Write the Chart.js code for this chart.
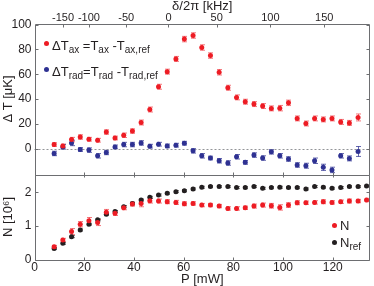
<!DOCTYPE html>
<html>
<head>
<meta charset="utf-8">
<script src="https://cdn.jsdelivr.net/npm/chart.js@4/dist/chart.umd.min.js"></script>
<style>
body { margin: 0; background: #fff; }
#wrap { position: relative; width: 374px; height: 286px; font-family: "Liberation Sans", Arial, sans-serif; color: #231f20; }
#myChart { display: block; }
.lg { position: absolute; font-size: 13px; line-height: 13px; white-space: pre; }
.lg sub { font-size: 10px; vertical-align: -3px; line-height: 0; }
.dot { position: absolute; width: 5px; height: 5px; border-radius: 50%; }
</style>
</head>
<body>
<div id="wrap">
<canvas id="myChart" width="374" height="286"></canvas>
<div class="dot" style="left:43.5px;top:40.8px;background:#ed1c24"></div>
<div class="lg" style="left:52px;top:39px">ΔT<sub>ax</sub> =T<sub>ax</sub> -T<sub>ax,ref</sub></div>
<div class="dot" style="left:43.5px;top:66.8px;background:#2e3192"></div>
<div class="lg" style="left:52px;top:65px">ΔT<sub>rad</sub>=T<sub>rad</sub> -T<sub>rad,ref</sub></div>
<div class="dot" style="left:331.5px;top:222.5px;background:#ed1c24"></div>
<div class="lg" style="left:340px;top:218.5px">N</div>
<div class="dot" style="left:331.5px;top:239.5px;background:#231f20"></div>
<div class="lg" style="left:340px;top:235.5px">N<sub>ref</sub></div>
</div>
<script>
// ===============================
// DATA
// ===============================
// laser power P [mW] of each measurement
const power = [7.9, 11.4, 14.9, 18.4, 21.9, 25.4, 28.9, 32.4, 35.9, 39.4, 42.9, 46.4,
    49.9, 53.4, 56.9, 60.3, 63.8, 67.3, 70.8, 74.3, 77.8, 81.3, 84.8, 88.3, 91.8,
    95.3, 98.7, 102.2, 105.7, 109.2, 112.7, 116.2, 119.7, 123.2, 126.7, 130.2, 133.6];

// top panel: temperature differences [uK]
const tempAx = [3.2, 2.1, 7.2, 9.3, 7.5, 6.7, 13.3, 8.5, 10.7, 14.1, 21.0, 31.5,
    49.9, 62.1, 72.4, 88.4, 91.3, 81.6, 75.1, 61.6, 49.1, 41.3, 37.8, 35.9, 34.3,
    32.4, 32.6, 36.9, 24.3, 20.2, 24.3, 23.5, 24.3, 21.5, 20.7, 25.1];
const errAx = [1.5, 1.5, 1.8, 1.8, 1.5, 1.5, 1.8, 1.5, 1.8, 1.8, 2.0, 2.0,
    2.0, 2.0, 2.0, 2.2, 2.2, 2.2, 2.2, 2.2, 2.0, 2.0, 2.0, 2.0, 2.0,
    2.0, 2.2, 2.2, 2.0, 2.0, 2.0, 2.0, 2.0, 2.0, 2.0, 2.8];
const tempRad = [-4.0, 1.3, 4.5, -0.8, -1.3, -5.9, -3.2, 1.3, 3.2, 3.2, 4.5, 1.9,
    3.5, 2.1, 2.7, 4.3, -1.9, -5.9, -7.7, -9.9, -11.7, -6.7, -11.2, -5.3, -7.7,
    -2.7, -5.9, -8.5, -13.3, -13.9, -9.9, -15.2, -17.3, -5.9, -8.0, -2.4];
const errRad = [1.8, 1.8, 2.2, 1.5, 1.8, 1.8, 1.8, 1.5, 1.8, 1.8, 1.8, 1.5,
    1.5, 1.5, 1.5, 1.5, 1.8, 1.8, 1.5, 1.8, 1.8, 1.8, 1.5, 1.8, 1.8,
    1.8, 1.8, 1.8, 1.8, 2.0, 2.2, 2.5, 2.2, 1.8, 2.0, 4.0];

// bottom panel: atom numbers [10^6]
const atoms = [0.38, 0.58, 0.83, 1.05, 1.15, 1.10, 1.41, 1.38, 1.54, 1.65, 1.67, 1.75,
    1.74, 1.72, 1.70, 1.66, 1.67, 1.62, 1.62, 1.59, 1.52, 1.52, 1.54, 1.59, 1.62,
    1.60, 1.55, 1.62, 1.69, 1.69, 1.70, 1.72, 1.70, 1.72, 1.74, 1.74, 1.77];
const errAtoms = [0.04, 0.05, 0.09, 0.08, 0.10, 0.09, 0.08, 0.07, 0.06, 0.06, 0.10, 0.07,
    0.06, 0.06, 0.06, 0.06, 0.05, 0.05, 0.05, 0.05, 0.05, 0.05, 0.05, 0.06, 0.06,
    0.07, 0.08, 0.07, 0.06, 0.05, 0.05, 0.06, 0.05, 0.05, 0.06, 0.05, 0.05];
const atomsRef = [0.33, 0.48, 0.68, 0.88, 1.05, 1.18, 1.35, 1.43, 1.57, 1.67, 1.77, 1.85,
    1.92, 1.97, 2.02, 2.05, 2.10, 2.15, 2.17, 2.17, 2.17, 2.14, 2.14, 2.17, 2.12,
    2.14, 2.15, 2.14, 2.14, 2.10, 2.17, 2.15, 2.12, 2.14, 2.17, 2.17, 2.19];
const errAtomsRef = atomsRef.map(() => 0.03);

// tick labels
const powerTicks = [0, 20, 40, 60, 80, 100, 120];
const tempTicks = [0, 20, 40, 60, 80, 100];
const atomTicks = [0, 1, 2];
// top axis: detuning labels [kHz] and the power where each one sits
const detuningLabels = [-150, -100, -50, 0, 50, 100, 150];
const detuningAtPower = [11.5, 21.9, 36.9, 53.9, 73.3, 94.9, 116.6];

const RED = '#ed1c24';
const BLUE = '#2e3192';
const BLACK = '#231f20';
const AXIS = '#6d6e71';
const FONT = '"Liberation Sans", Arial, sans-serif';

const toPoints = (ys) => ys.map((y, i) => ({ x: power[i], y: y }));
const setTicks = (values) => (s) => { s.ticks = values.map(v => ({ value: v })); };

// ===============================
// PLUGINS
// ===============================
// vertical error bars with caps, drawn under the markers
const errorBars = {
    id: 'errorBars',
    beforeDatasetsDraw(chart) {
        const ctx = chart.ctx;
        ctx.save();
        ctx.lineWidth = 1;
        chart.data.datasets.forEach((ds, i) => {
            const meta = chart.getDatasetMeta(i);
            const ys = chart.scales[ds.yAxisID];
            ctx.strokeStyle = ds.errColor;
            meta.data.forEach((pt, j) => {
                const v = ds.data[j].y, e = ds.err[j];
                const top = ys.getPixelForValue(v + e);
                const bot = ys.getPixelForValue(v - e);
                const x = Math.round(pt.x) + 0.5;
                ctx.beginPath();
                ctx.moveTo(x, top); ctx.lineTo(x, bot);
                ctx.moveTo(x - 2.5, top); ctx.lineTo(x + 2.5, top);
                ctx.moveTo(x - 2.5, bot); ctx.lineTo(x + 2.5, bot);
                ctx.stroke();
            });
        });
        ctx.restore();
    }
};

// boxed panels with inward ticks, plus dashed zero line
const panelFrame = {
    id: 'panelFrame',
    beforeDatasetsDraw(chart) {
        const ctx = chart.ctx;
        const { left, right } = chart.chartArea;
        const y0 = Math.round(chart.scales.yT.getPixelForValue(0)) + 0.5;
        ctx.save();
        ctx.strokeStyle = '#939598';
        ctx.lineWidth = 1;
        ctx.setLineDash([2, 2]);
        ctx.beginPath();
        ctx.moveTo(left, y0); ctx.lineTo(right, y0);
        ctx.stroke();
        ctx.restore();
    },
    afterDatasetsDraw(chart) {
        const ctx = chart.ctx;
        const { left, right } = chart.chartArea;
        const x = chart.scales.x, xTop = chart.scales.xTop;
        const line = (x1, y1, x2, y2) => { ctx.moveTo(x1, y1); ctx.lineTo(x2, y2); };
        ctx.save();
        ctx.strokeStyle = AXIS;
        ctx.lineWidth = 1;
        ctx.beginPath();
        ['yT', 'yN'].forEach(id => {
            const s = chart.scales[id];
            const t = Math.round(s.top) + 0.5, b = Math.round(s.bottom) + 0.5;
            const l = Math.round(left) + 0.5, r = Math.round(right) - 0.5;
            ctx.rect(l, t, r - l, b - t);
            s.ticks.forEach(tk => {
                const py = Math.round(s.getPixelForValue(tk.value)) + 0.5;
                line(l, py, l + 3, py);
                line(r, py, r - 3, py);
            });
            x.ticks.forEach(tk => {
                const px = Math.round(x.getPixelForValue(tk.value)) + 0.5;
                line(px, b, px, b - 3);
                if (id === 'yN') line(px, t, px, t + 2);
            });
        });
        xTop.ticks.forEach(tk => {
            const px = Math.round(xTop.getPixelForValue(tk.value)) + 0.5;
            const t = Math.round(chart.scales.yT.top) + 0.5;
            line(px, t, px, t + 3);
        });
        ctx.stroke();
        ctx.restore();
    }
};

// ===============================
// CHART
// ===============================
const ctx = document.getElementById('myChart').getContext('2d');

const hidden = { display: false };
const noGrid = { display: false, drawTicks: false };
const tickFont = { family: FONT, size: 12 };

new Chart(ctx, {
    type: 'scatter',
    data: {
        datasets: [
            { label: 'ΔT_ax', data: toPoints(tempAx), err: errAx, errColor: 'rgba(237,28,36,0.6)',
              yAxisID: 'yT', backgroundColor: RED, borderWidth: 0, pointRadius: 2.5 },
            { label: 'ΔT_rad', data: toPoints(tempRad), err: errRad, errColor: 'rgba(46,49,146,0.75)',
              yAxisID: 'yT', backgroundColor: BLUE, borderWidth: 0, pointRadius: 2.5 },
            { label: 'N', data: toPoints(atoms), err: errAtoms, errColor: 'rgba(237,28,36,0.6)',
              yAxisID: 'yN', backgroundColor: RED, borderWidth: 0, pointRadius: 2.5 },
            { label: 'N_ref', data: toPoints(atomsRef), err: errAtomsRef, errColor: 'rgba(35,31,32,0.6)',
              yAxisID: 'yN', backgroundColor: BLACK, borderWidth: 0, pointRadius: 2.5 }
        ]
    },
    options: {
        responsive: false,
        animation: false,
        devicePixelRatio: 1,
        layout: { padding: { left: 0, right: 2, top: 0, bottom: 0 } },
        plugins: { legend: hidden, tooltip: { enabled: false } },
        scales: {
            x: {
                type: 'linear', position: 'bottom', min: 0, max: 135,
                afterBuildTicks: setTicks(powerTicks),
                afterFit: s => { s.height = 26.5; },
                grid: noGrid, border: hidden,
                ticks: { autoSkip: false, maxRotation: 0, padding: 1, color: BLACK, font: tickFont },
                title: { display: true, text: 'P [mW]', color: BLACK, padding: 0,
                         font: { family: FONT, size: 13, lineHeight: 1 } }
            },
            xTop: {
                type: 'linear', position: 'top', min: 0, max: 135,
                afterBuildTicks: setTicks(detuningAtPower),
                afterFit: s => { s.height = 23.5; },
                grid: noGrid, border: hidden,
                ticks: { autoSkip: false, maxRotation: 0, padding: -1, color: BLACK,
                         font: { family: FONT, size: 11 },
                         callback: (v, i) => detuningLabels[i] },
                title: { display: true, text: 'δ/2π [kHz]', color: BLACK, padding: 0,
                         font: { family: FONT, size: 13, lineHeight: 1 } }
            },
            yT: {
                type: 'linear', position: 'left', stack: 'panels', stackWeight: 151, weight: 1,
                min: -21, max: 101,
                afterBuildTicks: setTicks(tempTicks),
                afterFit: s => { s.width = 34.5; },
                grid: noGrid, border: hidden,
                ticks: { autoSkip: false, padding: 3, color: BLACK, font: tickFont },
                title: { display: true, text: 'Δ T [μK]', color: BLACK, padding: { top: 1, bottom: 0 },
                         font: { family: FONT, size: 13 } }
            },
            yN: {
                type: 'linear', position: 'left', stack: 'panels', stackWeight: 85, weight: 0,
                min: 0, max: 2.53,
                afterBuildTicks: setTicks(atomTicks),
                afterFit: s => { s.width = 34.5; },
                grid: noGrid, border: hidden,
                ticks: { autoSkip: false, padding: 3, color: BLACK, font: tickFont },
                title: { display: true, text: 'N [10⁶]', color: BLACK, padding: { top: 1, bottom: 0 },
                         font: { family: FONT, size: 13 } }
            }
        }
    },
    plugins: [errorBars, panelFrame]
});
</script>
</body>
</html>
